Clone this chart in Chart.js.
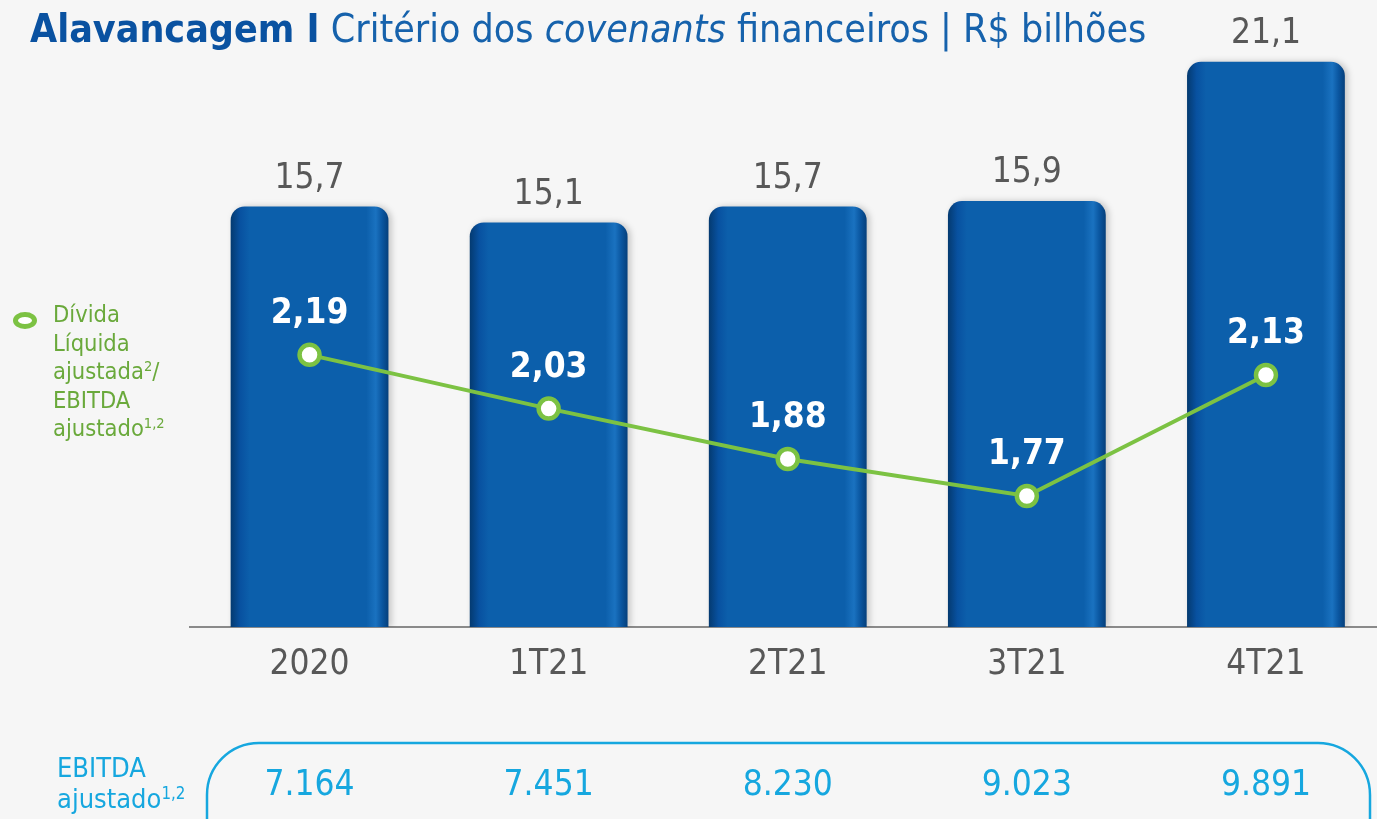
<!DOCTYPE html>
<html lang="pt-BR">
<head>
<meta charset="utf-8">
<title>Alavancagem</title>
<script src="https://cdn.jsdelivr.net/npm/chart.js@4.4.1/dist/chart.umd.min.js"></script>
<style>
  html, body { margin: 0; padding: 0; background: #f6f6f6; overflow: hidden; }
  body { width: 1377px; height: 819px; position: relative; font-family: "DejaVu Sans Condensed", "DejaVu Sans", sans-serif; }
  #grafico { position: absolute; left: 0; top: 0; }
  .titulo { position: absolute; left: 30px; top: 6px; font-size: 39px; color: #1662ac; white-space: nowrap; }
  .titulo b { color: #0a52a1; }
  .legenda { position: absolute; left: 53px; top: 300px; font-size: 23.5px; line-height: 28.5px; color: #6aa93b; }
  .marcador { position: absolute; left: 13px; top: 312px; width: 14px; height: 7px; border: 5.5px solid #7cc243; border-radius: 50%; background: #fff; }
  .ebitda { position: absolute; left: 57px; top: 752px; font-size: 27px; line-height: 31px; color: #16a7df; }
  sup { font-size: 62%; vertical-align: 0.55em; line-height: 0; }
</style>
</head>
<body>
<canvas id="grafico" width="1400" height="819"></canvas>
<div class="titulo"><b>Alavancagem I</b> Critério dos <i>covenants</i> financeiros | R$ bilhões</div>
<div class="marcador"></div>
<div class="legenda">Dívida<br>Líquida<br>ajustada<sup>2</sup>/<br>EBITDA<br>ajustado<sup>1,2</sup></div>
<div class="ebitda">EBITDA<br>ajustado<sup>1,2</sup></div>
<script>
// --------------------
// Dados (R$ bilhões / múltiplo / R$ milhões)
// --------------------
const categorias = ["2020", "1T21", "2T21", "3T21", "4T21"];
const dividaLiquida = [15.7, 15.1, 15.7, 15.9, 21.1];
const alavancagem = [2.19, 2.03, 1.88, 1.77, 2.13];
const ebitdaAjustado = [7164, 7451, 8230, 9023, 9891];

// --------------------
// Aparência
// --------------------
const FONTE = '"DejaVu Sans Condensed", "DejaVu Sans", sans-serif';
const LARGURA_BARRA = 0.66;
const VERDE = "#7cc243";
const CIANO = "#16a7df";

const decimal = (v, casas) => v.toFixed(casas).replace(".", ",");
const milhar = v => String(v).replace(/\B(?=(\d{3})+(?!\d))/g, ".");

// gradiente horizontal para dar volume às barras
function corBarra(c) {
  const chart = c.chart;
  const area = chart.chartArea;
  if (!area || c.dataIndex === undefined) return "#0c5fab";
  const x = chart.scales.x.getPixelForValue(c.dataIndex);
  const meio = chart.scales.x.width / categorias.length * LARGURA_BARRA / 2;
  if (!isFinite(x) || !isFinite(meio)) return "#0c5fab";
  const g = chart.ctx.createLinearGradient(x - meio, 0, x + meio, 0);
  g.addColorStop(0, "#043a70");
  g.addColorStop(0.06, "#0851a0");
  g.addColorStop(0.12, "#0c5fab");
  g.addColorStop(0.86, "#0c5fab");
  g.addColorStop(0.92, "#1a72c0");
  g.addColorStop(0.96, "#0a56a0");
  g.addColorStop(1, "#053f7b");
  return g;
}

// sombra leve atrás das barras
const sombra = {
  id: "sombra",
  beforeDatasetDraw(chart, args) {
    if (args.index !== 0) return;
    const ctx = chart.ctx;
    ctx.save();
    ctx.shadowColor = "rgba(0,0,0,0.2)";
    ctx.shadowBlur = 6;
    ctx.shadowOffsetX = 3;
  },
  afterDatasetDraw(chart, args) {
    if (args.index === 0) chart.ctx.restore();
  }
};

// rótulos de valor das barras e da linha
const rotulos = {
  id: "rotulos",
  afterDatasetsDraw(chart) {
    const ctx = chart.ctx;
    ctx.save();
    ctx.textAlign = "center";
    ctx.textBaseline = "middle";
    ctx.font = "35px " + FONTE;
    ctx.fillStyle = "#585858";
    chart.getDatasetMeta(0).data.forEach((bar, i) => {
      ctx.fillText(decimal(dividaLiquida[i], 1), bar.x, bar.y - 28);
    });
    ctx.font = "bold 35px " + FONTE;
    ctx.fillStyle = "#ffffff";
    chart.getDatasetMeta(1).data.forEach((pt, i) => {
      ctx.fillText(decimal(alavancagem[i], 2), pt.x, pt.y - 41);
    });
    ctx.restore();
  }
};

// faixa inferior com o EBITDA ajustado
const faixaEbitda = {
  id: "faixaEbitda",
  afterDraw(chart) {
    const ctx = chart.ctx;
    const x = chart.scales.x;
    ctx.save();
    ctx.strokeStyle = CIANO;
    ctx.lineWidth = 2.5;
    ctx.beginPath();
    ctx.roundRect(207, 743, 1163, 140, 52);
    ctx.stroke();
    ctx.font = "35px " + FONTE;
    ctx.fillStyle = CIANO;
    ctx.textAlign = "center";
    ctx.textBaseline = "middle";
    ebitdaAjustado.forEach((v, i) => {
      ctx.fillText(milhar(v), x.getPixelForValue(i), 786);
    });
    ctx.restore();
  }
};

new Chart(document.getElementById("grafico"), {
  data: {
    labels: categorias,
    datasets: [
      {
        type: "bar",
        label: "Dívida líquida",
        data: dividaLiquida,
        yAxisID: "y",
        order: 1,
        backgroundColor: corBarra,
        borderRadius: { topLeft: 14, topRight: 14 },
        borderSkipped: "bottom",
        barPercentage: LARGURA_BARRA,
        categoryPercentage: 1
      },
      {
        type: "line",
        label: "Dívida Líquida ajustada/EBITDA ajustado",
        data: alavancagem,
        yAxisID: "y2",
        order: 0,
        borderColor: VERDE,
        borderWidth: 4,
        pointRadius: 10,
        pointBorderWidth: 4.5,
        pointBackgroundColor: "#ffffff",
        pointBorderColor: VERDE,
        tension: 0
      }
    ]
  },
  options: {
    responsive: false,
    devicePixelRatio: 1,
    animation: false,
    layout: { padding: { left: 190, right: 10, top: 35, bottom: 0 } },
    plugins: { legend: { display: false }, tooltip: { enabled: false } },
    scales: {
      x: {
        grid: { display: false },
        border: { display: true, color: "#8a8a8a", width: 2 },
        ticks: { color: "#585858", font: { size: 35, family: FONTE }, padding: 9 },
        afterFit: scale => { scale.height = 192; }
      },
      y: { display: false, min: 0, max: 22.1 },
      y2: { display: false, min: 1.38, max: 3.142 }
    }
  },
  plugins: [sombra, rotulos, faixaEbitda]
});
</script>
</body>
</html>
